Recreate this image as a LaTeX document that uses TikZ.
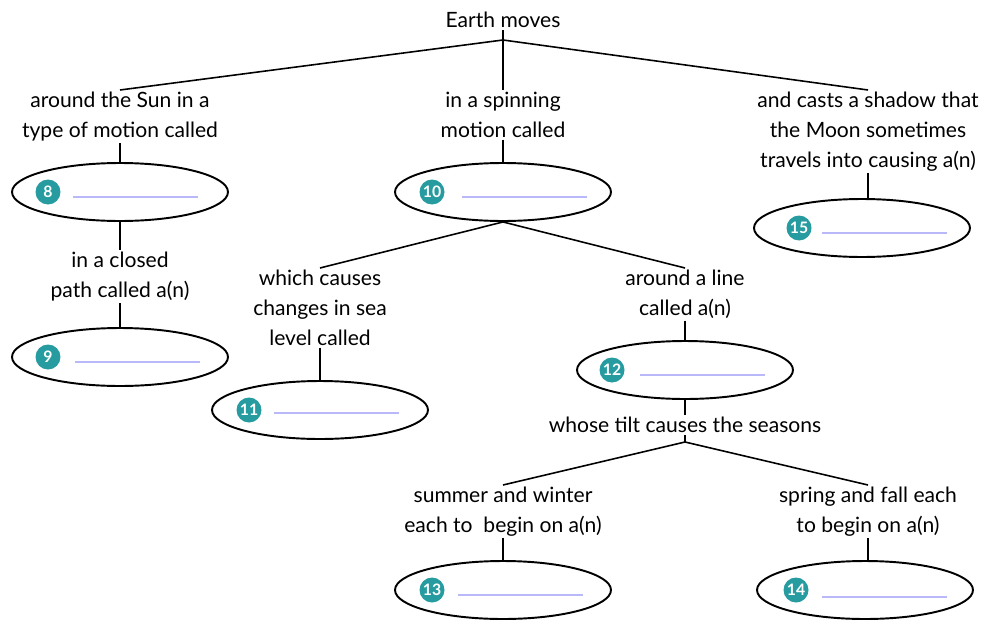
\documentclass[tikz,border=0pt]{standalone}
\usepackage{fontspec}
\setmainfont{Lato}
\setsansfont{Lato}
\usepackage{tikz}
\usetikzlibrary{positioning,shapes.geometric}

\definecolor{badgeteal}{RGB}{38,155,160}
\definecolor{blankblue}{RGB}{185,185,250}

\begin{document}
\begin{tikzpicture}[
  x=0.02cm, y=-0.02cm,
  every node/.style={font=\fontsize{12}{17}\selectfont},
  txt/.style={align=center, inner sep=1pt},
  oval/.style={draw, ellipse, line width=1.1pt, minimum width=4.32cm, minimum height=1.16cm, inner sep=0pt},
  badge/.style={circle, fill=badgeteal, text=white, inner sep=0pt, minimum size=0.5cm,
    font=\sffamily\bfseries\fontsize{9}{9}\selectfont},
  blank/.style={blankblue, line width=0.8pt},
  link/.style={line width=0.9pt}
]
\useasboundingbox (0,0) rectangle (997,622);

% top
\node[txt] (earth) at (503,20) {Earth moves};
\coordinate (top) at (503,40);

\node[txt, anchor=north] (sun) at (120,90) {around the Sun in a\\type of motion called};
\node[txt, anchor=north] (spin) at (503,90) {in a spinning\\motion called};
\node[txt, anchor=north] (shadow) at (868,90) {and casts a shadow that\\the Moon sometimes\\travels into causing a(n)};

% answer ovals
\node[oval] (e8) at (120,192) {};
\node[txt, anchor=north] (closed) at (120,250) {in a closed\\path called a(n)};
\node[oval] (e9) at (120,357) {};
\node[oval] (e10) at (503,192) {};
\node[oval] (e15) at (862,228) {};

\node[txt, anchor=north] (sea) at (320,268) {which causes\\changes in sea\\level called};
\node[oval] (e11) at (320,410) {};
\node[txt, anchor=north] (axis) at (685,268) {around a line\\called a(n)};
\node[oval] (e12) at (685,370) {};

\node[txt] (tilt) at (685,425) {whose tilt causes the seasons};
\coordinate (fork) at (685,442);
\node[txt, anchor=north] (summer) at (503,485) {summer and winter\\each to\ \ begin on a(n)};
\node[txt, anchor=north] (spring) at (868,485) {spring and fall each\\to begin on a(n)};
\node[oval] (e13) at (503,590) {};
\node[oval] (e14) at (865,590) {};

% number badges and blanks
\node[badge] (b8) at (48,192) {8};
\node[badge] (b9) at (48,357) {9};
\node[badge] (b10) at (432,192) {10};
\node[badge] (b11) at (249,410) {11};
\node[badge] (b12) at (612,370) {12};
\node[badge] (b13) at (432,590) {13};
\node[badge] (b14) at (796,590) {14};
\node[badge] (b15) at (799,228) {15};

\draw[blank] (73,197) -- (198,197);
\draw[blank] (75,362) -- (200,362);
\draw[blank] (462,197) -- (587,197);
\draw[blank] (274,413) -- (399,413);
\draw[blank] (640,375) -- (765,375);
\draw[blank] (458,595) -- (583,595);
\draw[blank] (822,597) -- (947,597);
\draw[blank] (822,233) -- (947,233);

% connectors
\draw[link] (earth.south) -- (top);
\draw[link] (top) -- (sun.north);
\draw[link] (top) -- (spin.north);
\draw[link] (top) -- (shadow.north);
\draw[link] (sun.south) -- (e8.north);
\draw[link] (e8.south) -- (closed.north);
\draw[link] (closed.south) -- (e9.north);
\draw[link] (spin.south) -- (e10.north);
\draw[link] (shadow.south) -- (e15.north -| shadow.south);
\draw[link] (e10.south) -- (sea.north);
\draw[link] (e10.south) -- (axis.north);
\draw[link] (sea.south) -- (e11.north);
\draw[link] (axis.south) -- (e12.north);
\draw[link] (e12.south) -- (tilt.north);
\draw[link] (tilt.south) -- (fork);
\draw[link] (fork) -- (summer.north);
\draw[link] (fork) -- (spring.north);
\draw[link] (summer.south) -- (e13.north);
\draw[link] (spring.south) -- (e14.north -| spring.south);
\end{tikzpicture}
\end{document}
